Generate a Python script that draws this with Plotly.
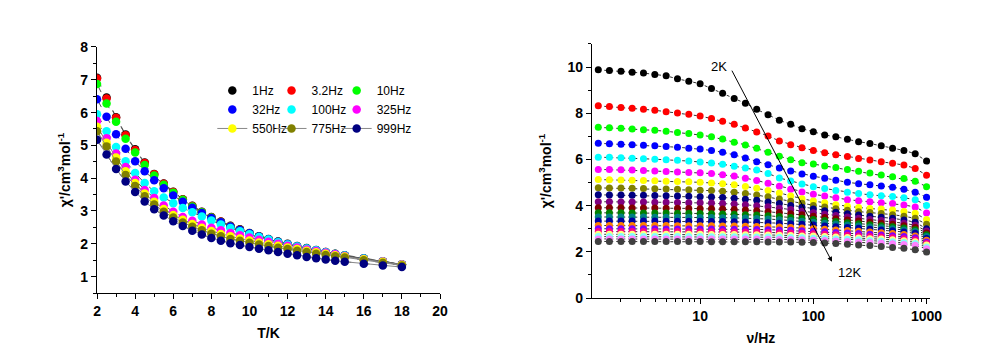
import plotly.graph_objects as go

# ---------------- Left panel data: chi' vs T at several frequencies ----------------
T = [2, 2.5, 3, 3.5, 4, 4.5, 5, 5.5, 6, 6.5, 7, 7.5, 8, 8.5, 9, 9.5, 10, 10.5, 11, 11.5,
     12, 12.5, 13, 13.5, 14, 14.5, 15, 16, 17, 18]
freq_labels = ["1Hz", "3.2Hz", "10Hz", "32Hz", "100Hz", "325Hz", "550Hz", "775Hz", "999Hz"]
freq_colors = ["#000000", "#FF0000", "#00FF00", "#0000FF", "#00FFFF", "#FF00FF",
               "#FFFF00", "#808000", "#000080"]
chi_1Hz = [7.06, 6.46, 5.86, 5.33, 4.88, 4.48, 4.13, 3.84, 3.59, 3.36, 3.16, 2.98, 2.82, 2.68, 2.55,
           2.44, 2.33, 2.23, 2.15, 2.07, 2.00, 1.93, 1.87, 1.81, 1.75, 1.70, 1.65, 1.56, 1.47, 1.38]
chi_3Hz = [7.04, 6.43, 5.84, 5.31, 4.86, 4.46, 4.12, 3.83, 3.58, 3.35, 3.15, 2.97, 2.81, 2.67, 2.54,
           2.43, 2.32, 2.23, 2.14, 2.06, 1.99, 1.92, 1.86, 1.80, 1.75, 1.69, 1.64, 1.55, 1.46, 1.37]
chi_10Hz = [6.87, 6.28, 5.72, 5.20, 4.78, 4.40, 4.08, 3.80, 3.56, 3.34, 3.14, 2.96, 2.80, 2.66, 2.53,
            2.42, 2.32, 2.22, 2.14, 2.06, 1.99, 1.92, 1.86, 1.80, 1.74, 1.69, 1.64, 1.55, 1.46, 1.37]
chi_32Hz = [6.41, 5.87, 5.34, 4.90, 4.52, 4.21, 3.94, 3.69, 3.47, 3.28, 3.10, 2.94, 2.79, 2.66, 2.53,
            2.42, 2.32, 2.22, 2.14, 2.06, 1.99, 1.92, 1.86, 1.80, 1.74, 1.69, 1.64, 1.55, 1.46, 1.37]
chi_100Hz = [5.95, 5.43, 4.95, 4.52, 4.16, 3.85, 3.60, 3.41, 3.24, 3.09, 2.96, 2.83, 2.71, 2.59, 2.48,
             2.38, 2.29, 2.21, 2.13, 2.05, 1.98, 1.92, 1.86, 1.80, 1.74, 1.69, 1.64, 1.55, 1.46, 1.37]
chi_325Hz = [5.74, 5.22, 4.75, 4.34, 3.95, 3.64, 3.40, 3.17, 2.98, 2.82, 2.70, 2.59, 2.49, 2.41, 2.33,
             2.26, 2.19, 2.12, 2.06, 2.00, 1.94, 1.89, 1.83, 1.78, 1.73, 1.68, 1.63, 1.54, 1.46, 1.37]
chi_550Hz = [5.57, 5.08, 4.63, 4.21, 3.85, 3.53, 3.28, 3.06, 2.88, 2.73, 2.60, 2.49, 2.39, 2.30, 2.23,
             2.16, 2.10, 2.04, 1.99, 1.94, 1.89, 1.84, 1.79, 1.74, 1.70, 1.65, 1.61, 1.53, 1.45, 1.36]
chi_775Hz = [5.43, 4.97, 4.51, 4.10, 3.76, 3.45, 3.20, 2.98, 2.80, 2.65, 2.52, 2.41, 2.31, 2.23, 2.15,
             2.09, 2.03, 1.98, 1.93, 1.88, 1.84, 1.79, 1.75, 1.70, 1.66, 1.62, 1.58, 1.50, 1.42, 1.34]
chi_999Hz = [5.17, 4.72, 4.28, 3.90, 3.58, 3.29, 3.05, 2.86, 2.69, 2.54, 2.40, 2.28, 2.18, 2.09, 2.02,
             1.96, 1.90, 1.85, 1.80, 1.75, 1.70, 1.65, 1.60, 1.56, 1.52, 1.48, 1.45, 1.39, 1.34, 1.29]
left_series = [chi_1Hz, chi_3Hz, chi_10Hz, chi_32Hz, chi_100Hz, chi_325Hz, chi_550Hz, chi_775Hz, chi_999Hz]
legend_of = ["legend", "legend2", "legend3"] * 3

# ---------------- Right panel data: chi' vs frequency at several temperatures ----------------
nu = [1.26, 1.58, 2.0, 2.51, 3.16, 3.98, 5.01, 6.31, 7.94, 10, 12.6, 15.8, 20, 25.1, 31.6, 39.8,
      50.1, 63.1, 79.4, 100, 126, 158, 200, 251, 316, 398, 501, 631, 794, 1000]
temp_labels = ["2K", "2.5K", "3K", "3.5K", "4K", "4.5K", "5K", "5.5K", "6K", "6.5K", "7K", "7.5K",
               "8K", "8.5K", "9K", "9.5K", "10K", "10.5K", "11K", "11.5K", "12K"]
temp_colors = ["#000000", "#FF0000", "#00FF00", "#0000FF", "#00FFFF", "#FF00FF", "#FFFF00",
               "#808000", "#000080", "#800080", "#800000", "#008000", "#008080", "#0000A0",
               "#FF8000", "#8000FF", "#FF0080", "#FFFF80", "#80FFFF", "#FF80FF", "#404040"]
chi_2K = [9.88, 9.85, 9.82, 9.78, 9.74, 9.68, 9.62, 9.49, 9.39, 9.28, 9.07, 8.87, 8.64, 8.43, 8.17,
          7.94, 7.70, 7.52, 7.33, 7.20, 7.06, 6.98, 6.87, 6.77, 6.69, 6.59, 6.49, 6.39, 6.25, 5.93]
chi_2p5K = [8.32, 8.29, 8.25, 8.22, 8.17, 8.13, 8.07, 8.01, 7.96, 7.88, 7.77, 7.65, 7.52, 7.36, 7.19,
            7.02, 6.80, 6.64, 6.51, 6.39, 6.29, 6.20, 6.13, 6.04, 5.98, 5.90, 5.83, 5.76, 5.61, 5.32]
chi_3K = [7.39, 7.37, 7.35, 7.32, 7.29, 7.26, 7.22, 7.17, 7.12, 7.06, 6.98, 6.88, 6.75, 6.63, 6.48,
          6.31, 6.14, 5.99, 5.86, 5.80, 5.72, 5.65, 5.56, 5.49, 5.41, 5.33, 5.25, 5.17, 5.06, 4.82]
chi_3p5K = [6.70, 6.68, 6.66, 6.64, 6.62, 6.59, 6.56, 6.53, 6.49, 6.45, 6.39, 6.31, 6.20, 6.06, 5.90,
            5.77, 5.63, 5.50, 5.37, 5.27, 5.19, 5.10, 5.01, 4.95, 4.90, 4.85, 4.80, 4.71, 4.58, 4.36]
chi_4K = [6.10, 6.09, 6.07, 6.05, 6.03, 6.01, 5.99, 5.96, 5.93, 5.89, 5.85, 5.79, 5.71, 5.63, 5.54,
          5.39, 5.20, 5.07, 4.94, 4.82, 4.74, 4.66, 4.58, 4.52, 4.47, 4.43, 4.40, 4.34, 4.26, 4.01]
chi_4p5K = [5.57, 5.56, 5.55, 5.54, 5.52, 5.50, 5.48, 5.46, 5.44, 5.42, 5.39, 5.34, 5.28, 5.19, 5.09,
            4.97, 4.84, 4.71, 4.59, 4.49, 4.42, 4.34, 4.26, 4.21, 4.17, 4.13, 4.09, 4.03, 3.94, 3.68]
chi_5K = [5.13, 5.12, 5.11, 5.10, 5.09, 5.08, 5.06, 5.05, 5.03, 5.01, 4.98, 4.95, 4.90, 4.83, 4.75,
          4.66, 4.55, 4.42, 4.30, 4.20, 4.12, 4.04, 3.97, 3.92, 3.88, 3.85, 3.81, 3.75, 3.67, 3.40]
chi_5p5K = [4.77, 4.76, 4.76, 4.75, 4.74, 4.73, 4.72, 4.71, 4.69, 4.67, 4.65, 4.62, 4.58, 4.53, 4.46,
            4.38, 4.29, 4.19, 4.10, 4.01, 3.94, 3.87, 3.80, 3.74, 3.70, 3.66, 3.61, 3.54, 3.45, 3.19]
chi_6K = [4.47, 4.46, 4.46, 4.45, 4.45, 4.44, 4.43, 4.42, 4.41, 4.39, 4.37, 4.35, 4.32, 4.28, 4.23,
          4.16, 4.09, 4.01, 3.93, 3.85, 3.78, 3.71, 3.65, 3.59, 3.54, 3.50, 3.45, 3.38, 3.28, 3.00]
chi_6p5K = [4.17, 4.17, 4.16, 4.16, 4.16, 4.15, 4.15, 4.14, 4.13, 4.12, 4.11, 4.09, 4.07, 4.04, 4.00,
            3.95, 3.89, 3.83, 3.76, 3.69, 3.63, 3.57, 3.51, 3.45, 3.40, 3.36, 3.31, 3.24, 3.15, 2.90]
chi_7K = [3.91, 3.91, 3.91, 3.90, 3.90, 3.90, 3.89, 3.89, 3.88, 3.87, 3.86, 3.85, 3.83, 3.81, 3.78,
          3.74, 3.70, 3.65, 3.60, 3.54, 3.49, 3.43, 3.38, 3.33, 3.28, 3.24, 3.19, 3.13, 3.05, 2.82]
chi_7p5K = [3.69, 3.69, 3.69, 3.68, 3.68, 3.68, 3.68, 3.67, 3.67, 3.66, 3.65, 3.64, 3.63, 3.61, 3.59,
            3.56, 3.53, 3.49, 3.45, 3.40, 3.36, 3.31, 3.26, 3.22, 3.17, 3.13, 3.09, 3.03, 2.96, 2.74]
chi_8K = [3.51, 3.51, 3.51, 3.51, 3.51, 3.50, 3.50, 3.50, 3.50, 3.49, 3.49, 3.48, 3.47, 3.46, 3.44,
          3.42, 3.39, 3.36, 3.32, 3.28, 3.24, 3.20, 3.16, 3.12, 3.08, 3.04, 3.00, 2.95, 2.88, 2.66]
chi_8p5K = [3.33, 3.33, 3.33, 3.33, 3.33, 3.33, 3.32, 3.32, 3.32, 3.32, 3.31, 3.31, 3.30, 3.29, 3.28,
            3.26, 3.24, 3.21, 3.19, 3.16, 3.12, 3.09, 3.05, 3.02, 2.98, 2.95, 2.91, 2.86, 2.80, 2.58]
chi_9K = [3.14, 3.14, 3.14, 3.14, 3.14, 3.14, 3.14, 3.13, 3.13, 3.13, 3.13, 3.12, 3.12, 3.11, 3.10,
          3.09, 3.07, 3.05, 3.03, 3.01, 2.98, 2.95, 2.92, 2.89, 2.86, 2.83, 2.79, 2.75, 2.69, 2.50]
chi_9p5K = [3.00, 3.00, 3.00, 3.00, 3.00, 3.00, 2.99, 2.99, 2.99, 2.99, 2.99, 2.98, 2.98, 2.97, 2.97,
            2.96, 2.94, 2.93, 2.91, 2.89, 2.87, 2.84, 2.82, 2.79, 2.76, 2.73, 2.70, 2.66, 2.61, 2.43]
chi_10K = [2.88, 2.88, 2.88, 2.88, 2.88, 2.88, 2.88, 2.88, 2.87, 2.87, 2.87, 2.87, 2.86, 2.86, 2.85,
           2.84, 2.83, 2.82, 2.80, 2.78, 2.76, 2.74, 2.72, 2.69, 2.66, 2.64, 2.61, 2.57, 2.52, 2.36]
chi_10p5K = [2.76, 2.76, 2.76, 2.76, 2.76, 2.76, 2.76, 2.76, 2.76, 2.76, 2.75, 2.75, 2.75, 2.74, 2.74,
             2.73, 2.72, 2.71, 2.69, 2.68, 2.66, 2.64, 2.62, 2.60, 2.57, 2.55, 2.52, 2.48, 2.44, 2.29]
chi_11K = [2.66, 2.66, 2.66, 2.66, 2.66, 2.66, 2.66, 2.66, 2.66, 2.66, 2.65, 2.65, 2.65, 2.65, 2.64,
           2.64, 2.63, 2.62, 2.61, 2.59, 2.58, 2.56, 2.54, 2.52, 2.49, 2.47, 2.44, 2.40, 2.36, 2.21]
chi_11p5K = [2.56, 2.56, 2.56, 2.56, 2.56, 2.56, 2.56, 2.56, 2.56, 2.56, 2.56, 2.55, 2.55, 2.55, 2.55,
             2.54, 2.53, 2.53, 2.52, 2.50, 2.49, 2.47, 2.45, 2.43, 2.41, 2.38, 2.35, 2.32, 2.28, 2.13]
chi_12K = [2.45, 2.45, 2.45, 2.45, 2.45, 2.45, 2.45, 2.45, 2.45, 2.45, 2.44, 2.44, 2.44, 2.44, 2.44,
           2.43, 2.43, 2.42, 2.41, 2.40, 2.38, 2.36, 2.33, 2.30, 2.27, 2.23, 2.19, 2.15, 2.09, 1.99]
right_series = [chi_2K, chi_2p5K, chi_3K, chi_3p5K, chi_4K, chi_4p5K, chi_5K, chi_5p5K, chi_6K,
                chi_6p5K, chi_7K, chi_7p5K, chi_8K, chi_8p5K, chi_9K, chi_9p5K, chi_10K, chi_10p5K,
                chi_11K, chi_11p5K, chi_12K]

FONT = "Arial, Liberation Sans, sans-serif"
fig = go.Figure()

# Left panel: connecting dashed lines first
for vals in left_series:
    fig.add_trace(go.Scatter(x=T, y=vals, mode="lines", xaxis="x", yaxis="y",
                             line=dict(color="#555555", width=1, dash="dash"),
                             showlegend=False, hoverinfo="skip"))
for i, (lab, col, vals) in enumerate(zip(freq_labels, freq_colors, left_series)):
    mode = "lines+markers" if i >= 6 else "markers"
    fig.add_trace(go.Scatter(x=T, y=vals, mode=mode, name=lab, xaxis="x", yaxis="y",
                             legend=legend_of[i],
                             line=dict(color="#888888", width=1),
                             marker=dict(color=col, size=8.5, line=dict(width=0))))

# Right panel
for lab, col, vals in zip(temp_labels, temp_colors, right_series):
    fig.add_trace(go.Scatter(x=nu, y=vals, mode="lines+markers", name=lab, xaxis="x2", yaxis="y2",
                             line=dict(color="#333333", width=1, dash="dot"),
                             marker=dict(color=col, size=7, line=dict(width=0)),
                             showlegend=False))

tickfont = dict(family=FONT, size=14, color="black", weight="bold")
titlefont = dict(family=FONT, size=14, color="black", weight="bold")
common = dict(showline=True, linecolor="black", linewidth=1.2, ticks="outside", ticklen=5,
              tickwidth=1.2, tickcolor="black", showgrid=False, zeroline=False, tickfont=tickfont,
              mirror=False, automargin=False)

leg_common = dict(font=dict(family=FONT, size=12, color="black"), bgcolor="rgba(0,0,0,0)",
                  xanchor="left", yanchor="top", itemwidth=30, tracegroupgap=0,
                  orientation="v")

fig.update_layout(
    width=987, height=345,
    margin=dict(l=0, r=0, t=0, b=0),
    paper_bgcolor="white", plot_bgcolor="white",
    xaxis=dict(domain=[0.0902, 0.4377], anchor="y", range=[2, 20], dtick=2,
               minor=dict(dtick=1, ticks="outside", ticklen=3, tickcolor="black"),
               title=dict(text="T/K", font=titlefont, standoff=10), **common),
    yaxis=dict(domain=[0.1739, 0.887], anchor="x", range=[0.5, 8], dtick=1,
               minor=dict(dtick=0.5, ticks="outside", ticklen=3, tickcolor="black"),
               title=dict(text="χ'/cm<sup>3</sup>mol<sup>-1</sup>", font=titlefont, standoff=6),
               **common),
    xaxis2=dict(domain=[0.5917, 0.9341], anchor="y2", type="log", range=[0.045, 3.03],
                tickmode="array", tickvals=[10, 100, 1000], ticktext=["10", "100", "1000"],
                minor=dict(ticks="outside", ticklen=3, tickcolor="black",
                           tickvals=[2, 3, 4, 5, 6, 7, 8, 9, 20, 30, 40, 50, 60, 70, 80, 90,
                                     200, 300, 400, 500, 600, 700, 800, 900]),
                title=dict(text="ν/Hz", font=titlefont, standoff=10), **common),
    yaxis2=dict(domain=[0.1594, 0.8957], anchor="x2", range=[0, 11], dtick=2,
                minor=dict(dtick=1, ticks="outside", ticklen=3, tickcolor="black"),
                title=dict(text="χ'/cm<sup>3</sup>mol<sup>-1</sup>", font=titlefont, standoff=12),
                **common),
    legend=dict(x=0.207, y=0.803, **leg_common),
    legend2=dict(x=0.267, y=0.803, **leg_common),
    legend3=dict(x=0.333, y=0.803, **leg_common),
    annotations=[
        dict(x=2.165, y=1.57, ax=1.274, ay=9.91, xref="x2", yref="y2", axref="x2", ayref="y2",
             showarrow=True, arrowhead=2, arrowsize=1, arrowwidth=1, arrowcolor="black", text=""),
        dict(x=1.168, y=10.04, xref="x2", yref="y2", text="2K", showarrow=False,
             font=dict(family=FONT, size=13, color="black")),
        dict(x=2.315, y=1.09, xref="x2", yref="y2", text="12K", showarrow=False,
             font=dict(family=FONT, size=13, color="black")),
    ],
)

fig.write_html("out.html")
